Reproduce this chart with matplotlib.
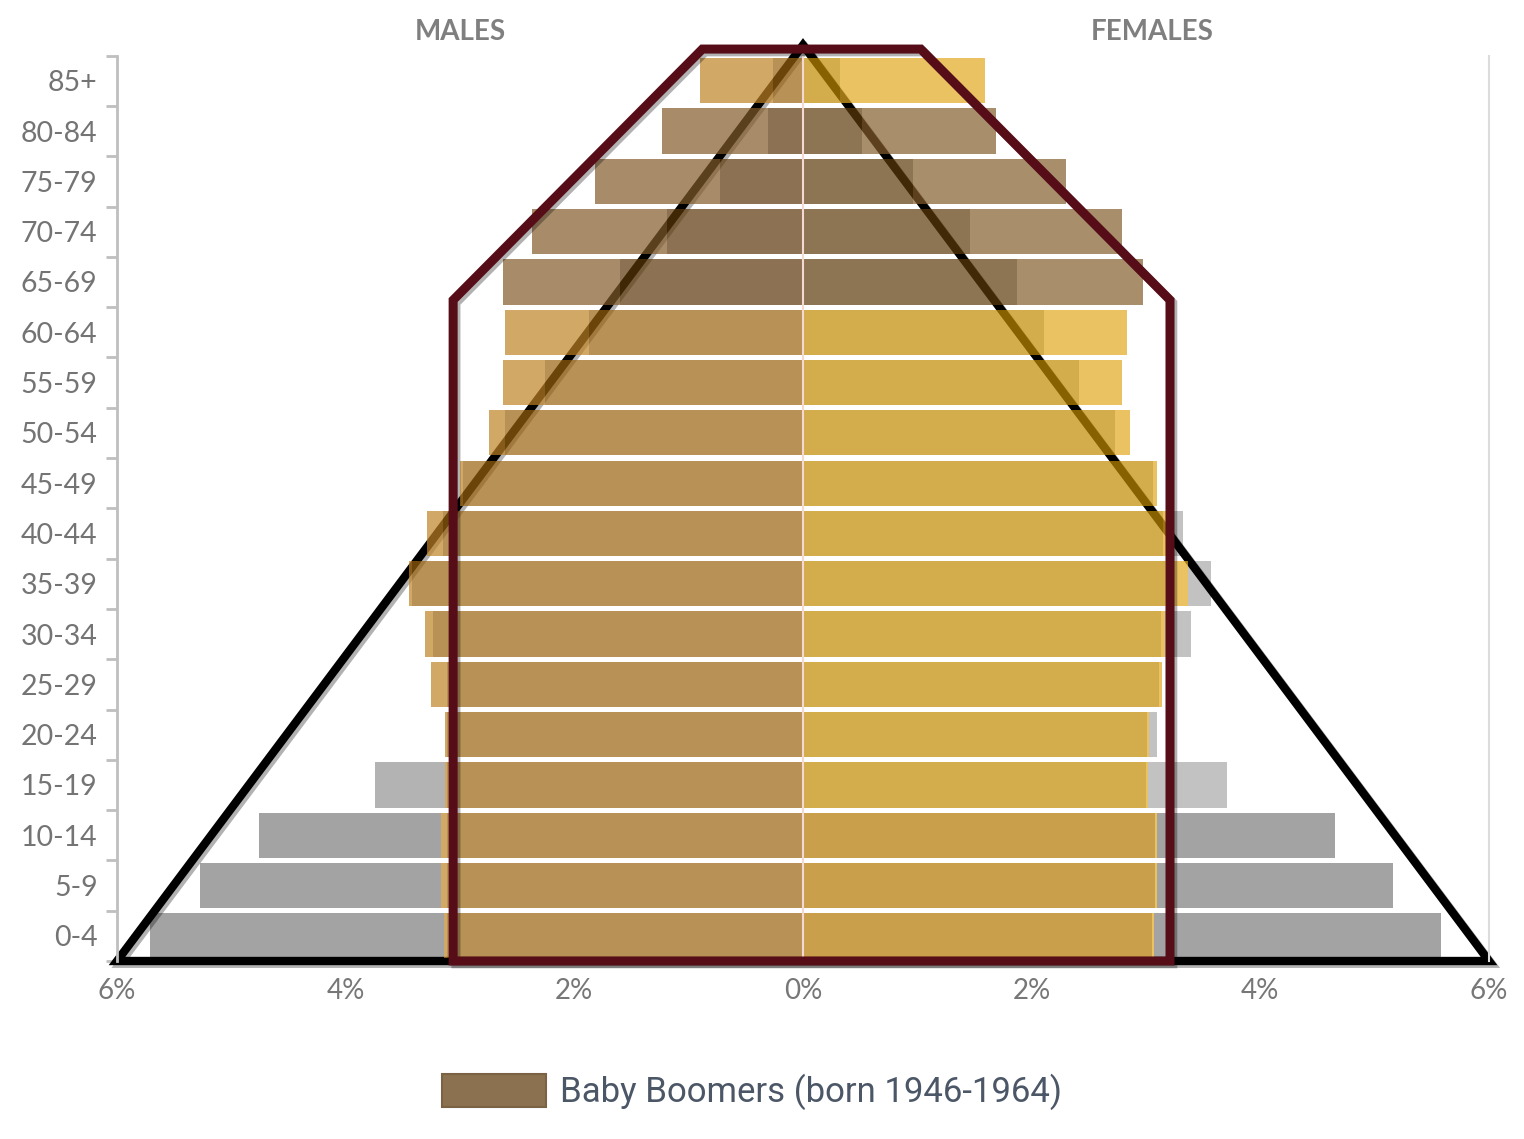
import numpy as np
import matplotlib
matplotlib.use("Agg")
import matplotlib.pyplot as plt
from matplotlib import font_manager
from matplotlib.patches import Patch, Polygon
from matplotlib.ticker import FuncFormatter
import matplotlib.patheffects as pe

# age groups, bottom to top
ages = ["0-4", "5-9", "10-14", "15-19", "20-24", "25-29", "30-34", "35-39", "40-44",
        "45-49", "50-54", "55-59", "60-64", "65-69", "70-74", "75-79", "80-84", "85+"]

# % of population (outer gold layer)
male_outer = [3.14, 3.17, 3.17, 3.13, 3.13, 3.25, 3.31, 3.45, 3.29,
              3.00, 2.75, 2.62, 2.61, 2.62, 2.37, 1.82, 1.23, 0.90]
female_outer = [3.07, 3.10, 3.10, 3.02, 3.03, 3.14, 3.17, 3.37, 3.18,
                3.10, 2.86, 2.79, 2.83, 2.97, 2.79, 2.30, 1.69, 1.59]
# inner (darker) gold layer
male_inner = [3.11, 3.11, 3.11, 3.11, 3.11, 3.11, 3.24, 3.42, 3.15,
              2.97, 2.61, 2.26, 1.87, 1.60, 1.19, 0.73, 0.31, 0.26]
female_inner = [3.05, 3.08, 3.08, 3.00, 3.01, 3.11, 3.13, 3.17, 3.15,
                3.06, 2.73, 2.41, 2.11, 1.87, 1.46, 0.96, 0.52, 0.32]
# grey pyramid behind
male_grey = [5.71, 5.27, 4.76, 3.74, 3.05, 3.00, 3.10, 3.30, 3.00,
             2.70, 2.50, 2.20, 1.90, 1.60, 1.20, 0.90, 0.60, 0.30]
female_grey = [5.58, 5.16, 4.65, 3.71, 3.10, 3.05, 3.39, 3.57, 3.32,
               2.90, 2.60, 2.30, 2.00, 1.70, 1.30, 1.00, 0.70, 0.40]

boomer_groups = ["65-69", "70-74", "75-79", "80-84"]
legend_label = "Baby Boomers (born 1946-1964)"

# fonts
names = {f.name for f in font_manager.fontManager.ttflist}
label_font = "Lato" if "Lato" in names else "DejaVu Sans"
if "Liberation Sans Narrow" in names:
    legend_font, legend_size = "Liberation Sans Narrow", 29
else:
    legend_font, legend_size = "Roboto", 25

y = np.arange(len(ages))
boomer = np.array([a in boomer_groups for a in ages])
mo, fo = np.array(male_outer), np.array(female_outer)
mi, fi = np.array(male_inner), np.array(female_inner)
mg, fg = np.array(male_grey), np.array(female_grey)

ALPHA = 0.7
# colours chosen so that they give the right tint over white at ALPHA
m_dark = np.where(boomer, "#5b3708", "#9a620f")
m_light = np.where(boomer, "#835c2a", "#c08326")
f_dark = np.where(boomer, "#5d3a0a", np.where(y < 3, "#b47700", "#c18b00"))
f_light = np.where(boomer, "#855e2c", "#e2a91f")
m_grey_col = np.where(y < 3, "#a3a3a3", np.where(y == 3, "#b3b3b3", "#c2c2c2"))
f_grey_col = np.where(y < 3, "#a3a3a3", "#c2c2c2")

fig = plt.figure(figsize=(15.24, 11.39), dpi=100)
ax = fig.add_axes([117 / 1524, 178 / 1139, 1372 / 1524, 905.4 / 1139])
h = 0.9

# grey bars, only the part sticking out past the gold
ax.barh(y, -np.clip(mg - mo, 0, None), left=-mo, height=h, color=m_grey_col, zorder=1)
ax.barh(y, np.clip(fg - fo, 0, None), left=fo, height=h, color=f_grey_col, zorder=1)

# black triangle (old pyramid shape)
tri = Polygon([(-6, -0.5), (0, 17.71), (6, -0.5)], closed=True, fill=False,
              edgecolor="black", lw=6, joinstyle="miter", zorder=2, clip_on=False,
              path_effects=[pe.SimpleLineShadow(offset=(2, -2), alpha=0.3), pe.Normal()])
ax.add_patch(tri)

# gold bars, semi transparent
ax.barh(y, -mi, height=h, color=m_dark, alpha=ALPHA, zorder=3)
ax.barh(y, -(mo - mi), left=-mi, height=h, color=m_light, alpha=ALPHA, zorder=3)
ax.barh(y, fi, height=h, color=f_dark, alpha=ALPHA, zorder=3)
ax.barh(y, fo - fi, left=fi, height=h, color=f_light, alpha=ALPHA, zorder=3)

ax.axvline(0, color="#f6d8d2", lw=1.5, zorder=4)

# maroon outline (column shape)
col = Polygon([(-3.06, -0.5), (-3.06, 12.64), (-0.88, 17.63), (1.03, 17.63),
               (3.21, 12.64), (3.21, -0.5)], closed=True, fill=False,
              edgecolor="#560d18", lw=6.5, joinstyle="miter", zorder=5, clip_on=False,
              path_effects=[pe.SimpleLineShadow(offset=(2, -2), alpha=0.3), pe.Normal()])
ax.add_patch(col)

ax.set_xlim(-6, 6)
ax.set_ylim(-0.5, 17.5)

# y axis: ticks between groups, labels at group centres
ax.set_yticks(np.arange(-0.5, 18, 1))
ax.set_yticklabels([])
ax.tick_params(axis="y", which="major", length=8, width=2, color="#bfbfbf", direction="out")
ax.set_yticks(y, minor=True)
ax.set_yticklabels(ages, minor=True, fontsize=20.5, color="#747474", family=label_font)
ax.tick_params(axis="y", which="minor", length=0, pad=14)

ax.set_xticks(np.arange(-6, 7, 2))
ax.xaxis.set_major_formatter(FuncFormatter(lambda v, p: f"{abs(v):.0f}%"))
ax.tick_params(axis="x", length=0, pad=12, labelsize=20, labelcolor="#777777")
for t in ax.get_xticklabels():
    t.set_family(label_font)

for s in ["top", "bottom"]:
    ax.spines[s].set_visible(False)
ax.spines["left"].set_color("#bfbfbf")
ax.spines["left"].set_linewidth(2)
ax.spines["right"].set_color("#dcdcdc")
ax.spines["right"].set_linewidth(1.5)

ax.text(-3, 17.97, "MALES", ha="center", va="center", fontsize=20, fontweight="bold",
        color="#7f7f7f", family=label_font, clip_on=False)
ax.text(3.05, 17.97, "FEMALES", ha="center", va="center", fontsize=20, fontweight="bold",
        color="#7f7f7f", family=label_font, clip_on=False)

handle = Patch(facecolor="#8b7150", edgecolor="#7a6245", lw=1.5)
fig.legend([handle], [legend_label], loc="center", bbox_to_anchor=(752 / 1524, 1 - 1092 / 1139),
           frameon=False, handlelength=3.0, handleheight=1.1, handletextpad=0.4,
           prop={"family": legend_font, "size": legend_size}, labelcolor="#4b5666")

fig.savefig("out.png", dpi=100)
